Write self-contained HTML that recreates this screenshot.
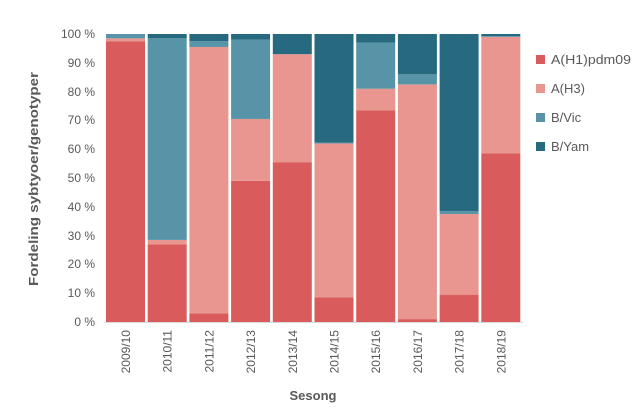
<!DOCTYPE html>
<html><head><meta charset="utf-8"><style>
body{margin:0;background:#fff;}
svg{display:block;font-family:"Liberation Sans",sans-serif;}
</style></head><body>
<svg width="644" height="412" xmlns="http://www.w3.org/2000/svg">
<g id="bars"></g>
<g font-size="12" fill="#595959" text-anchor="end">
<text x="95" y="326">0 %</text><text x="95" y="297">10 %</text><text x="95" y="268">20 %</text><text x="95" y="240">30 %</text><text x="95" y="211">40 %</text><text x="95" y="182">50 %</text><text x="95" y="153">60 %</text><text x="95" y="124">70 %</text><text x="95" y="96">80 %</text><text x="95" y="67">90 %</text><text x="95" y="38">100 %</text>
</g>
<line x1="104" y1="322.5" x2="523" y2="322.5" stroke="#d9d9d9"/>
<g id="xl" font-size="12" fill="#595959" text-anchor="end"></g>
<text x="313" y="400" font-size="13" font-weight="bold" fill="#595959" text-anchor="middle">Sesong</text>
<text transform="translate(38,179) rotate(-90)" font-size="13" font-weight="bold" fill="#595959" text-anchor="middle" textLength="214" lengthAdjust="spacingAndGlyphs">Fordeling sybtyoer/genotyper</text>
<g font-size="13" fill="#595959">
<rect x="536" y="55" width="9" height="9" fill="#d95b5b"/><text x="551" y="64" textLength="80" lengthAdjust="spacingAndGlyphs">A(H1)pdm09</text>
<rect x="536" y="84" width="9" height="9" fill="#e8968f"/><text x="551" y="93">A(H3)</text>
<rect x="536" y="113" width="9" height="9" fill="#5794a8"/><text x="551" y="122">B/Vic</text>
<rect x="536" y="142" width="9" height="9" fill="#276a80"/><text x="551" y="151">B/Yam</text>
</g>
<script>
var d=[["2009/10",97.5,1,1.5,0],["2010/11",27,1.5,70,1.5],["2011/12",3,92.5,2,2.5],["2012/13",49,21.5,27.5,2],["2013/14",55.5,37.5,0,7],["2014/15",8.5,53.5,0.3,37.7],["2015/16",73.5,7.5,16,3],["2016/17",1,81.5,3.5,14],["2017/18",9.5,28,1,61.5],["2018/19",58.5,40.5,0.3,0.7]];
var c=["#d95b5b","#e8968f","#5794a8","#276a80"],ns="http://www.w3.org/2000/svg",g=document.getElementById("bars"),xl=document.getElementById("xl");
d.forEach(function(r,i){var x=106+i*41.7,y=322;for(var k=1;k<5;k++){var h=r[k]*2.88;var e=document.createElementNS(ns,"rect");e.setAttribute("x",x);e.setAttribute("width",39);e.setAttribute("y",y-h);e.setAttribute("height",h);e.setAttribute("fill",c[k-1]);g.appendChild(e);y-=h;}
var t=document.createElementNS(ns,"text");t.setAttribute("transform","translate("+(x+24)+",330) rotate(-90)");t.textContent=r[0];xl.appendChild(t);});
</script>
</svg>
</body></html>
